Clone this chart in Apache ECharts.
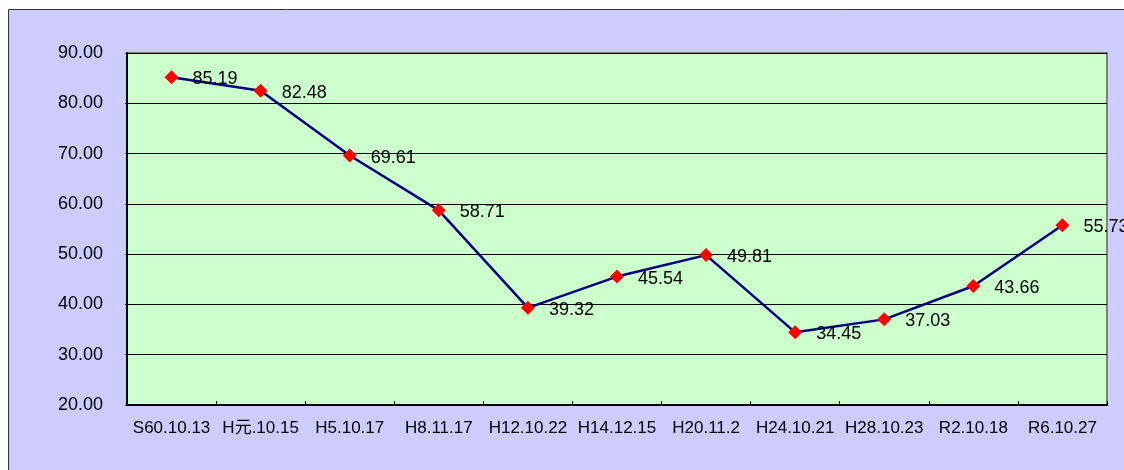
<!DOCTYPE html>
<html>
<head>
<meta charset="utf-8">
<script src="https://cdn.jsdelivr.net/npm/echarts@6/dist/echarts.min.js"></script>
<style>
html,body{margin:0;padding:0;background:#ffffff;}
#chart{width:1124px;height:470px;}
</style>
</head>
<body>
<div id="chart"></div>
<script>
const categories = ['S60.10.13','H元.10.15','H5.10.17','H8.11.17','H12.10.22','H14.12.15','H20.11.2','H24.10.21','H28.10.23','R2.10.18','R6.10.27'];
const values = [85.19, 82.48, 69.61, 58.71, 39.32, 45.54, 49.81, 34.45, 37.03, 43.66, 55.73];
const yMin = 20, yMax = 90, yStep = 10;

const font = '"Liberation Sans", "Noto Sans CJK JP", sans-serif';
const chart = echarts.init(document.getElementById('chart'));
chart.setOption({
  animation: false,
  backgroundColor: '#ffffff',
  graphic: [{
    type: 'rect', z: -10,
    shape: {x: 8.5, y: 9.5, width: 1200, height: 600},
    style: {fill: '#CCCCFF', stroke: '#333333', lineWidth: 1}
  }],
  grid: {
    left: 127, top: 53, right: 17, bottom: 65,
    show: true, backgroundColor: '#CCFFCC', borderColor: '#808080', borderWidth: 2
  },
  xAxis: {
    type: 'category', data: categories, boundaryGap: true,
    axisLine: {lineStyle: {color: '#000000', width: 2}},
    axisTick: {show: true, inside: true, length: 4, lineStyle: {color: '#000000'}},
    axisLabel: {color: '#000000', fontSize: 17, fontFamily: font, margin: 15, interval: 0}
  },
  yAxis: {
    type: 'value', min: yMin, max: yMax, interval: yStep,
    axisLine: {show: true, lineStyle: {color: '#000000', width: 2}},
    axisTick: {show: true, length: 2, lineStyle: {color: '#000000'}},
    axisLabel: {color: '#000000', fontSize: 18, fontFamily: font, margin: 24,
      padding: [3, 0, 0, 0], formatter: v => v.toFixed(2)},
    splitLine: {show: true, lineStyle: {color: '#000000', width: 1}}
  },
  series: [{
    type: 'line', data: values,
    lineStyle: {color: '#000080', width: 2.5},
    symbol: 'diamond', symbolSize: 14,
    itemStyle: {color: '#FF0000'},
    label: {show: true, position: 'right', distance: 14, offset: [0, 2], color: '#000000',
      fontSize: 18, fontFamily: font, formatter: p => p.value.toFixed(2)}
  }]
});
</script>
</body>
</html>
